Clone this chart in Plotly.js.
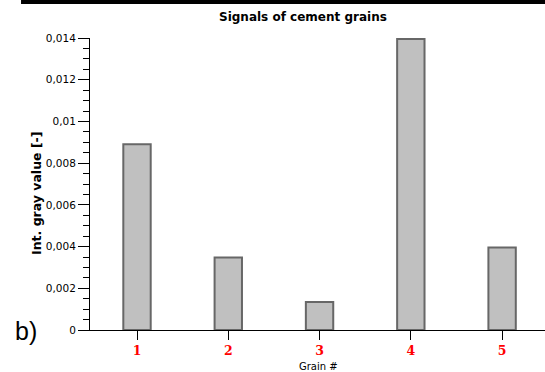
<!DOCTYPE html>
<html>
<head>
<meta charset="utf-8">
<script src="https://cdn.plot.ly/plotly-3.0.1.min.js"></script>
<style>
  html, body { margin: 0; padding: 0; background: #fff; }
  #chart { width: 545px; height: 372px; }
</style>
</head>
<body>
<div id="chart"></div>
<script>
// Integrated gray value of each cement grain
const grains = [1, 2, 3, 4, 5];
const grainLabels = ['1', '2', '3', '4', '5'];
const grayValues = [0.0089, 0.00348, 0.00134, 0.01395, 0.00395];

// Value axis ticks (comma decimal separator)
const yTickVals = [0, 0.002, 0.004, 0.006, 0.008, 0.01, 0.012, 0.014];
const yTickText = ['0', '0,002', '0,004', '0,006', '0,008', '0,01', '0,012', '0,014'];

const trace = {
  type: 'bar',
  x: grains,
  y: grayValues,
  width: 0.3,
  marker: { color: '#c0c0c0', line: { color: '#676767', width: 2 } },
  hoverinfo: 'x+y'
};

const layout = {
  width: 545,
  height: 372,
  margin: { l: 90, r: 0, t: 38, b: 42 },
  paper_bgcolor: '#ffffff',
  plot_bgcolor: '#ffffff',
  showlegend: false,
  font: { family: 'DejaVu Sans, Verdana, sans-serif', color: '#000', size: 10 },
  xaxis: {
    range: [0.485, 5.47],
    tickvals: grains,
    ticktext: grainLabels,
    ticks: 'outside',
    ticklen: 9,
    tickwidth: 1,
    tickcolor: '#000',
    showline: true,
    linecolor: '#000',
    linewidth: 1,
    showgrid: false,
    zeroline: false,
    tickfont: { family: 'DejaVu Serif, serif', size: 12.5, color: '#ff0000', weight: 'bold' },
    fixedrange: true
  },
  yaxis: {
    range: [0, 0.014],
    tickvals: yTickVals,
    ticktext: yTickText,
    ticks: 'outside',
    ticklen: 11,
    tickwidth: 1,
    tickcolor: '#000',
    minor: { dtick: 0.0005, ticks: 'outside', ticklen: 6, tickcolor: '#000', tickwidth: 1, showgrid: false },
    showline: true,
    linecolor: '#000',
    linewidth: 1,
    showgrid: false,
    zeroline: false,
    tickfont: { family: 'DejaVu Sans, Verdana, sans-serif', size: 10.5, color: '#000' },
    fixedrange: true
  },
  shapes: [
    // heavy rule along the top of the figure
    { type: 'rect', xref: 'paper', yref: 'paper', x0: -0.1516, x1: 1.01, y0: 1.1164, y1: 1.2, fillcolor: '#000', line: { width: 0 }, layer: 'above' }
  ],
  annotations: [
    { text: 'Signals of cement grains', xref: 'paper', yref: 'paper', x: (303 - 90) / 455, y: (330 - 17) / 292, xanchor: 'center', yanchor: 'middle', showarrow: false,
      font: { family: 'DejaVu Sans, Verdana, sans-serif', size: 12, weight: 'bold', color: '#000' } },
    { text: 'Int. gray value [-]', xref: 'paper', yref: 'paper', x: (36 - 90) / 455, y: (330 - 193) / 292, xanchor: 'center', yanchor: 'middle', textangle: -90, showarrow: false,
      font: { family: 'DejaVu Sans, Verdana, sans-serif', size: 12.5, weight: 'bold', color: '#000' } },
    { text: 'Grain #', xref: 'paper', yref: 'paper', x: (318 - 90) / 455, y: (330 - 366) / 292, xanchor: 'center', yanchor: 'middle', showarrow: false,
      font: { family: 'DejaVu Sans, Verdana, sans-serif', size: 10, color: '#000' } },
    { text: 'b)', xref: 'paper', yref: 'paper', x: (26 - 90) / 455, y: (330 - 331) / 292, xanchor: 'center', yanchor: 'middle', showarrow: false,
      font: { family: 'Liberation Sans, Arial, sans-serif', size: 25, color: '#000' } }
  ]
};

Plotly.newPlot('chart', [trace], layout, { displayModeBar: false, staticPlot: true });
</script>
</body>
</html>
